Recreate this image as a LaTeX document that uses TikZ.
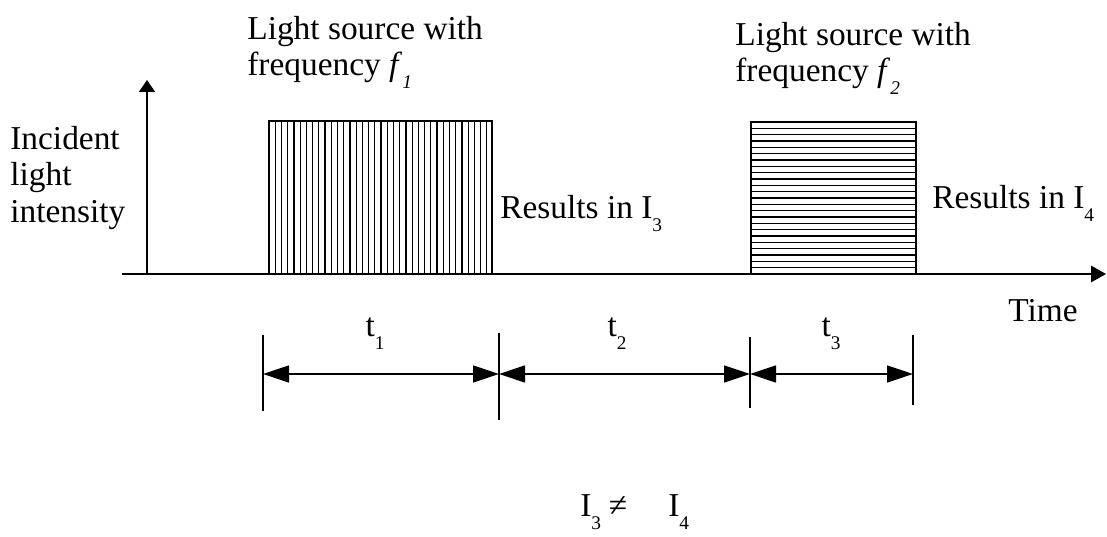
\documentclass[tikz,border=0pt]{standalone}
\usepackage{fontspec}
\setmainfont{Liberation Serif}
\usetikzlibrary{arrows.meta}
\newcommand{\lowidx}[1]{\raisebox{-7pt}{\fontsize{11}{11}\selectfont #1}}

\begin{document}
\begin{tikzpicture}[line join=miter,
  txt/.style={inner sep=0pt,font=\fontsize{19}{21}\selectfont},
  axisline/.style={line width=0.8pt},
  hatchline/.style={line width=0.7pt},
  tickline/.style={line width=0.8pt},
  dimarrow/.style={line width=0.8pt,
    {Triangle[length=0.52cm,width=0.34cm]}-{Triangle[length=0.52cm,width=0.34cm]}}]
  \useasboundingbox (0,0) rectangle (22.14,10.74);
  % axes
  \coordinate (O) at (2.94,5.26);
  \coordinate (xs) at (2.44,5.26);
  \coordinate (xe) at (22.12,5.26);
  \coordinate (ye) at (2.94,9.14);
  \draw[axisline,-{Triangle[length=0.30cm,width=0.33cm]}] (xs) -- (xe);
  \draw[axisline,-{Triangle[length=0.24cm,width=0.32cm]}] (O) -- (ye);
  % pulse f1, vertical hatching
  \coordinate (p1a) at (5.38,5.26);
  \coordinate (p1b) at (9.84,8.32);
  \draw[axisline] (p1a) rectangle (p1b);
  \foreach \k in {1,...,35} {
    \pgfmathsetmacro\xx{5.38+\k*0.1245}
    \draw[hatchline] (\xx,5.26) -- (\xx,8.32);
  }
  % pulse f2, horizontal hatching
  \coordinate (p2a) at (15.02,5.26);
  \coordinate (p2b) at (18.32,8.30);
  \draw[axisline] (p2a) rectangle (p2b);
  \foreach \k in {1,...,23} {
    \pgfmathsetmacro\yy{5.26+\k*3.04/24}
    \draw[hatchline] (15.02,\yy) -- (18.32,\yy);
  }
  % labels
  \node[txt,anchor=north west,align=left] (src1) at (4.94,10.43)
    {Light source with\\frequency \textit{f}\lowidx{\textit{1}}};
  \node[txt,anchor=north west,align=left] (src2) at (14.70,10.31)
    {Light source with\\frequency \textit{f}\lowidx{\textit{2}}};
  \node[txt,anchor=north west,align=left] (ylab) at (0.20,8.23)
    {Incident\\light\\intensity};
  \node[txt,anchor=base west] (res3) at (10.00,6.36) {Results in I\lowidx{3}};
  \node[txt,anchor=base west] (res4) at (18.64,6.56) {Results in I\lowidx{4}};
  \node[txt,anchor=base west] (time) at (20.16,4.30) {Time};
  % time intervals
  \coordinate (k0t) at (5.26,4.04);  \coordinate (k0b) at (5.26,2.52);
  \coordinate (k1t) at (9.98,4.08);  \coordinate (k1b) at (9.98,2.34);
  \coordinate (k2t) at (15.00,4.00); \coordinate (k2b) at (15.00,2.58);
  \coordinate (k3t) at (18.26,4.04); \coordinate (k3b) at (18.26,2.64);
  \draw[tickline] (k0t) -- (k0b);
  \draw[tickline] (k1t) -- (k1b);
  \draw[tickline] (k2t) -- (k2b);
  \draw[tickline] (k3t) -- (k3b);
  \coordinate (d0) at (5.26,3.26);
  \coordinate (d1) at (9.98,3.26);
  \coordinate (d2) at (15.00,3.26);
  \coordinate (d3) at (18.26,3.26);
  \draw[dimarrow] (d0) -- (d1);
  \draw[dimarrow] (d1) -- (d2);
  \draw[dimarrow] (d2) -- (d3);
  \node[txt,anchor=base] (t1) at (7.50,4.00) {t\lowidx{1}};
  \node[txt,anchor=base] (t2) at (12.34,4.00) {t\lowidx{2}};
  \node[txt,anchor=base] (t3) at (16.62,4.00) {t\lowidx{3}};
  % result
  \node[txt,anchor=base west] (i3) at (11.60,0.40) {I\lowidx{3}};
  \node[txt,anchor=base] (neq) at (12.36,0.40) {≠};
  \node[txt,anchor=base west] (i4) at (13.36,0.40) {I\lowidx{4}};
\end{tikzpicture}
\end{document}
